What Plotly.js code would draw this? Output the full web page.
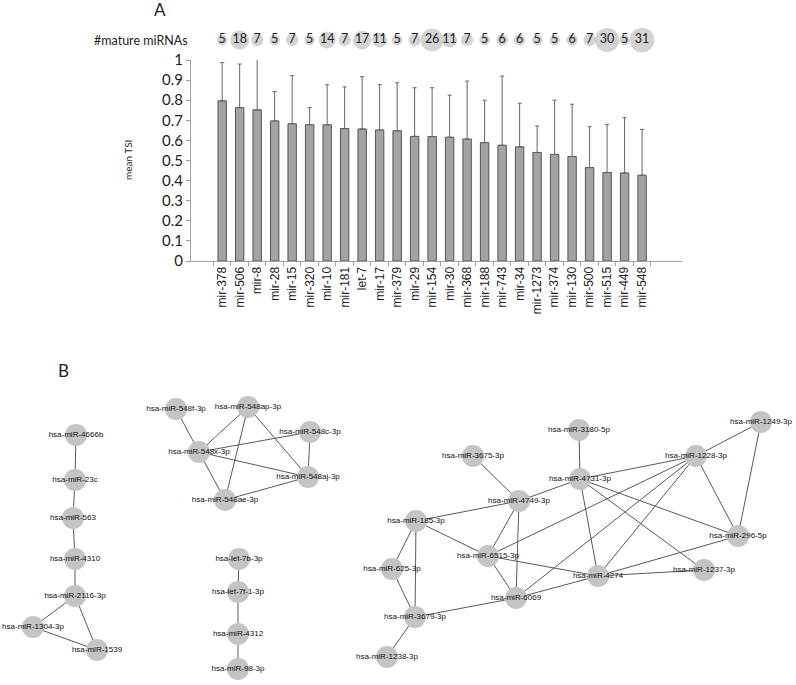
<!DOCTYPE html>
<html>
<head>
<meta charset="utf-8">
<script src="https://cdn.plot.ly/plotly-3.0.1.min.js"></script>
<style>
html,body{margin:0;padding:0;background:#fff;}
#chart{width:796px;height:685px;}
</style>
</head>
<body>
<div id="chart"></div>
<script>
// ---------- Panel A data ----------
const families = ["mir-378","mir-506","mir-8","mir-28","mir-15","mir-320","mir-10","mir-181","let-7","mir-17","mir-379","mir-29","mir-154","mir-30","mir-368","mir-188","mir-743","mir-34","mir-1273","mir-374","mir-130","mir-500","mir-515","mir-449","mir-548"];
const meanTSI = [0.797,0.763,0.752,0.697,0.683,0.678,0.678,0.659,0.657,0.652,0.648,0.620,0.619,0.616,0.607,0.589,0.576,0.568,0.540,0.530,0.520,0.465,0.440,0.438,0.427];
const errUp   = [0.190,0.217,0.280,0.146,0.239,0.085,0.199,0.207,0.260,0.225,0.239,0.242,0.243,0.209,0.288,0.211,0.344,0.217,0.132,0.270,0.260,0.203,0.240,0.275,0.228];
const matureCounts = [5,18,7,5,7,5,14,7,17,11,5,7,26,11,7,5,6,6,5,5,6,7,30,5,31];
const yTicks = [0,0.1,0.2,0.3,0.4,0.5,0.6,0.7,0.8,0.9,1];

// ---------- Panel B data (network) ----------
const nodeNames = ["hsa-miR-4666b","hsa-miR-23c","hsa-miR-563","hsa-miR-4310","hsa-miR-2116-3p","hsa-miR-1304-3p","hsa-miR-1539",
  "hsa-miR-548f-3p","hsa-miR-548ap-3p","hsa-miR-548c-3p","hsa-miR-548x-3p","hsa-miR-548aj-3p","hsa-miR-548ae-3p",
  "hsa-let-7b-3p","hsa-let-7f-1-3p","hsa-miR-4312","hsa-miR-98-3p",
  "hsa-miR-3180-5p","hsa-miR-1249-3p","hsa-miR-3675-3p","hsa-miR-1228-3p","hsa-miR-4731-3p","hsa-miR-4749-3p","hsa-miR-185-3p","hsa-miR-296-5p","hsa-miR-6515-3p","hsa-miR-625-3p","hsa-miR-1237-3p","hsa-miR-4274","hsa-miR-6069","hsa-miR-3679-3p","hsa-miR-1238-3p"];
const nodeX = [76,75,73,75,75,33,97, 176,248,310,199,308,225, 239,238,238,238, 579,761,473,696,580,519,416,738,488,392,704,598,516,415,387];
const nodeY = [435,480,518,559,596,627,650, 409,407,432,452,477,500, 559,592,634,669, 430,422,456,456,479,501,521,536,556,569,570,576,598,617,657];
const edgeFrom = ["hsa-miR-4666b","hsa-miR-23c","hsa-miR-563","hsa-miR-4310","hsa-miR-2116-3p","hsa-miR-2116-3p","hsa-miR-1304-3p",
  "hsa-miR-548f-3p","hsa-miR-548ap-3p","hsa-miR-548ap-3p","hsa-miR-548ap-3p","hsa-miR-548c-3p","hsa-miR-548c-3p","hsa-miR-548x-3p","hsa-miR-548x-3p","hsa-miR-548ae-3p",
  "hsa-let-7b-3p","hsa-let-7f-1-3p","hsa-miR-4312",
  "hsa-miR-3180-5p","hsa-miR-3675-3p","hsa-miR-1249-3p","hsa-miR-1249-3p","hsa-miR-4731-3p","hsa-miR-4731-3p","hsa-miR-4731-3p","hsa-miR-4731-3p","hsa-miR-4731-3p",
  "hsa-miR-1228-3p","hsa-miR-1228-3p","hsa-miR-1228-3p","hsa-miR-1228-3p","hsa-miR-4749-3p","hsa-miR-4749-3p","hsa-miR-4749-3p",
  "hsa-miR-185-3p","hsa-miR-185-3p","hsa-miR-185-3p","hsa-miR-6515-3p","hsa-miR-6515-3p","hsa-miR-625-3p","hsa-miR-296-5p","hsa-miR-4274","hsa-miR-4274","hsa-miR-6069","hsa-miR-3679-3p"];
const edgeTo = ["hsa-miR-23c","hsa-miR-563","hsa-miR-4310","hsa-miR-2116-3p","hsa-miR-1304-3p","hsa-miR-1539","hsa-miR-1539",
  "hsa-miR-548x-3p","hsa-miR-548x-3p","hsa-miR-548ae-3p","hsa-miR-548aj-3p","hsa-miR-548x-3p","hsa-miR-548aj-3p","hsa-miR-548aj-3p","hsa-miR-548ae-3p","hsa-miR-548aj-3p",
  "hsa-let-7f-1-3p","hsa-miR-4312","hsa-miR-98-3p",
  "hsa-miR-4731-3p","hsa-miR-4749-3p","hsa-miR-1228-3p","hsa-miR-296-5p","hsa-miR-1228-3p","hsa-miR-4749-3p","hsa-miR-4274","hsa-miR-1237-3p","hsa-miR-296-5p",
  "hsa-miR-6515-3p","hsa-miR-6069","hsa-miR-4274","hsa-miR-296-5p","hsa-miR-185-3p","hsa-miR-6515-3p","hsa-miR-6069",
  "hsa-miR-6515-3p","hsa-miR-625-3p","hsa-miR-3679-3p","hsa-miR-6069","hsa-miR-4274","hsa-miR-3679-3p","hsa-miR-4274","hsa-miR-1237-3p","hsa-miR-6069","hsa-miR-3679-3p","hsa-miR-1238-3p"];

// ---------- build ----------
const W = 796, H = 685;
const px = v => v / W;
const py = v => 1 - v / H;

const idx = {};
nodeNames.forEach((n, i) => idx[n] = i);
const ex = [], ey = [];
edgeFrom.forEach((f, k) => {
  const a = idx[f], b = idx[edgeTo[k]];
  ex.push(nodeX[a], nodeX[b], null);
  ey.push(nodeY[a], nodeY[b], null);
});

const calib = "Lato, 'Open Sans', sans-serif";
const arial = "'Liberation Sans', Arial, sans-serif";

const traces = [
  {
    type: 'bar', x: families, y: meanTSI, xaxis: 'x', yaxis: 'y',
    marker: {color: '#a3a3a3', line: {color: '#555555', width: 1}},
    error_y: {type: 'data', symmetric: false, array: errUp, arrayminus: meanTSI.map(() => 0),
              color: '#666666', thickness: 1, width: 2},
    hoverinfo: 'x+y', showlegend: false
  },
  {
    type: 'scatter', mode: 'markers+text', x: families, y: families.map(() => 0.5),
    xaxis: 'x', yaxis: 'y2',
    text: matureCounts.map(String),
    textposition: 'middle center',
    textfont: {family: calib, size: 12.5, color: '#222'},
    marker: {size: matureCounts.map(c => 1.2 + 4.2 * Math.sqrt(c)), sizemode: 'diameter', color: '#c0c0c0', line: {width: 0}},
    cliponaxis: false, showlegend: false, hoverinfo: 'text'
  },
  {
    type: 'scatter', mode: 'lines', x: ex, y: ey, xaxis: 'x3', yaxis: 'y3',
    line: {color: '#5a5a5a', width: 1}, hoverinfo: 'skip', showlegend: false
  },
  {
    type: 'scatter', mode: 'markers+text', x: nodeX, y: nodeY, xaxis: 'x3', yaxis: 'y3',
    text: nodeNames, textposition: 'middle center',
    textfont: {family: arial, size: 8, color: '#111'},
    marker: {size: 22, color: '#c4c4c4', line: {width: 0}},
    cliponaxis: false, showlegend: false, hoverinfo: 'text'
  }
];

const layout = {
  width: W, height: H,
  margin: {l: 0, r: 0, t: 0, b: 0},
  paper_bgcolor: '#fff', plot_bgcolor: 'rgba(0,0,0,0)',
  showlegend: false,
  bargap: 0.52,
  xaxis: {
    domain: [px(191), px(682)], anchor: 'y', type: 'category',
    showline: true, linecolor: '#a0a0a0', linewidth: 1,
    ticks: 'outside', tickson: 'boundaries', ticklen: 4, tickcolor: '#a0a0a0',
    tickangle: -90, tickfont: {family: arial, size: 12, color: '#222'},
    showgrid: false, zeroline: false, fixedrange: true
  },
  yaxis: {
    domain: [py(261), py(60)], anchor: 'x', range: [0, 1],
    tickvals: yTicks, ticktext: yTicks.map(String),
    showline: true, linecolor: '#a0a0a0', linewidth: 1,
    ticks: 'outside', ticklen: 4, tickcolor: '#a0a0a0',
    tickfont: {family: calib, size: 15, color: '#222'},
    showgrid: false, zeroline: false, fixedrange: true
  },
  yaxis2: {
    domain: [py(50), py(30)], anchor: 'x', range: [0, 1], visible: false, fixedrange: true
  },
  xaxis3: {domain: [0, 1], anchor: 'y3', range: [0, W], visible: false, fixedrange: true},
  yaxis3: {domain: [0, 1], anchor: 'x3', range: [H, 0], visible: false, fixedrange: true},
  annotations: [
    {text: 'A', xref: 'paper', yref: 'paper', x: px(160), y: py(10), xanchor: 'center', yanchor: 'middle',
     showarrow: false, font: {family: calib, size: 17, color: '#222'}},
    {text: 'B', xref: 'paper', yref: 'paper', x: px(63), y: py(370), xanchor: 'center', yanchor: 'middle',
     showarrow: false, font: {family: calib, size: 17, color: '#222'}},
    {text: '#mature miRNAs', xref: 'paper', yref: 'paper', x: px(190), y: py(40), xanchor: 'right', yanchor: 'middle',
     showarrow: false, font: {family: calib, size: 12.5, color: '#222'}},
    {text: 'mean TSI', xref: 'paper', yref: 'paper', x: px(128), y: py(160), xanchor: 'center', yanchor: 'middle',
     textangle: -90, showarrow: false, font: {family: calib, size: 10, color: '#222'}}
  ]
};

Plotly.newPlot('chart', traces, layout, {displayModeBar: false, staticPlot: true});
</script>
</body>
</html>
